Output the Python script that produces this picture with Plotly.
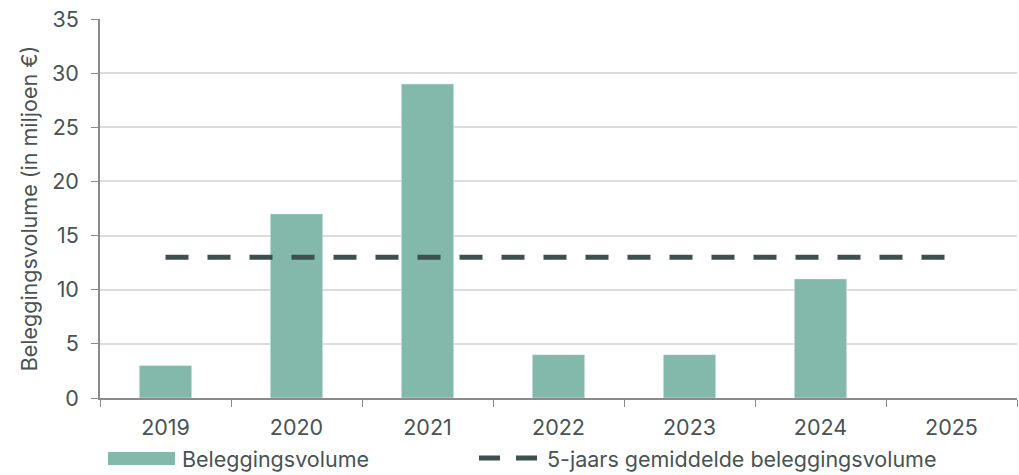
import plotly.graph_objects as go

years = ["2019", "2020", "2021", "2022", "2023", "2024", "2025"]
volume = [3, 17, 29, 4, 4, 11, None]
avg5 = [13, 13, 13, 13, 13, 13, 13]
y_ticks = [0, 5, 10, 15, 20, 25, 30, 35]

BAR = "#82b9aa"
LINE = "#3d504f"
TXT = "#485353"
FONT = "Inter"
FS = 21.5

fig = go.Figure()
fig.add_trace(go.Bar(x=years, y=volume, marker_color=BAR, width=0.4,
                     name="Beleggingsvolume", showlegend=False))
fig.add_trace(go.Scatter(x=years, y=avg5, mode="lines",
                         line=dict(color=LINE, width=5, dash="23px,19px"),
                         name="5-jaars gemiddelde beleggingsvolume", showlegend=False))

fig.update_layout(
    width=1019, height=475,
    margin=dict(l=100, r=2, t=19, b=77),
    plot_bgcolor="white", paper_bgcolor="white",
    font=dict(family=FONT, color=TXT, size=FS),
    bargap=0.6,
)
fig.update_xaxes(type="category", range=[-0.5, 6.5], tickson="boundaries",
                 ticks="outside", ticklen=7, tickcolor="#8a8a8a",
                 showline=True, linecolor="#8a8a8a", linewidth=1.5,
                 showgrid=False, ticklabelstandoff=9,
                 tickfont=dict(size=FS, color=TXT))
fig.update_yaxes(range=[0, 35], tickvals=y_ticks, ticks="outside", ticklen=7,
                 tickcolor="#8a8a8a", showline=True, linecolor="#8a8a8a",
                 linewidth=1.5, gridcolor="#dcdcdc", gridwidth=1.5,
                 zeroline=False, ticklabelstandoff=8,
                 tickfont=dict(size=FS, color=TXT),
                 title=dict(text="Beleggingsvolume (in miljoen €)",
                            font=dict(size=FS, color=TXT), standoff=9))

# legend drawn manually
fig.add_shape(type="rect", xref="paper", yref="paper",
              x0=(108 - 100) / 917, x1=(175 - 100) / 917,
              y0=-(452 - 398) / 379, y1=-(465 - 398) / 379,
              fillcolor=BAR, line_width=0)
fig.add_annotation(xref="paper", yref="paper", x=(180 - 100) / 917,
                   y=-(459 - 398) / 379, text="Beleggingsvolume",
                   showarrow=False, xanchor="left", yanchor="middle",
                   font=dict(size=FS, color=TXT))
for a, b in [(479, 500), (516, 537)]:
    fig.add_shape(type="line", xref="paper", yref="paper",
                  x0=(a - 100) / 917, x1=(b - 100) / 917,
                  y0=-(458 - 398) / 379, y1=-(458 - 398) / 379,
                  line=dict(color=LINE, width=5))
fig.add_annotation(xref="paper", yref="paper", x=(545 - 100) / 917,
                   y=-(459 - 398) / 379, text="5-jaars gemiddelde beleggingsvolume",
                   showarrow=False, xanchor="left", yanchor="middle",
                   font=dict(size=FS, color=TXT))

fig.write_html("out.html")
